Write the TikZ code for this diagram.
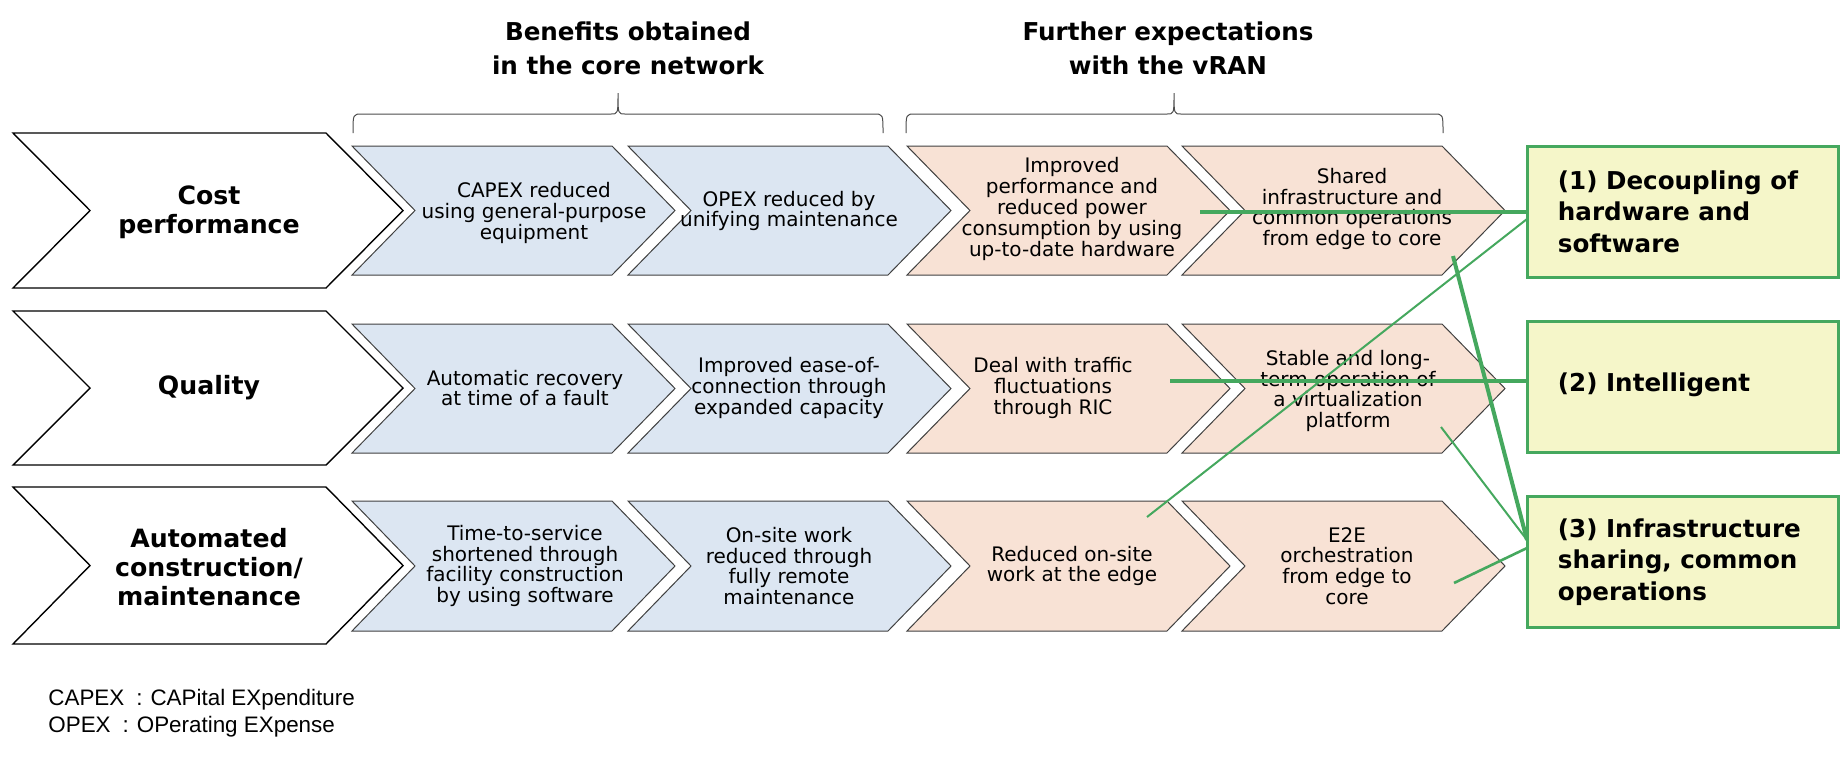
\documentclass[tikz,border=0pt]{standalone}
\usepackage{fontspec}
\setmainfont{DejaVu Sans}
\newfontfamily\notefont{Liberation Sans}
\usetikzlibrary{calc}
\definecolor{bluefill}{HTML}{DCE6F2}
\definecolor{orangefill}{HTML}{F8E2D5}
\definecolor{boxfill}{HTML}{F5F6C9}
\definecolor{ggreen}{HTML}{45A85E}
\newcommand\chevshape[6]{% style, left, top, bottom, width, depth
  \path[#1] (#2,#3) -- ++({#5-#6},0) -- ++(#6,{(#4-#3)/2}) -- ++(-#6,{(#4-#3)/2})
    -- (#2,#4) -- ++(#6,{-(#4-#3)/2}) -- cycle;}
\newcommand\bracepath[3]{% left, centre, right
  \draw[brace] (#1,133) .. controls (#1,114) .. ({#1+9},114) -- ({#2-7},114)
    .. controls (#2,114) .. (#2,93) .. controls (#2,114) .. ({#2+7},114)
    -- ({#3-9},114) .. controls (#3,114) .. (#3,133);}
\tikzset{
  chevwhite/.style={draw=black, line width=0.7pt, fill=white},
  chevblue/.style={draw=black!75, line width=0.5pt, fill=bluefill},
  chevorange/.style={draw=black!75, line width=0.5pt, fill=orangefill},
  ctext/.style={align=center, font=\fontsize{10}{10.4}\selectfont, inner sep=0pt},
  rowlabel/.style={align=center, font=\bfseries\fontsize{12.6}{14.7}\selectfont, inner sep=0pt},
  header/.style={align=center, font=\bfseries\fontsize{12.3}{17}\selectfont, inner sep=0pt},
  gbox/.style={draw=ggreen, line width=1.5pt, fill=boxfill, minimum width=155.5pt, minimum height=65.5pt, inner sep=0pt},
  gtext/.style={align=left, font=\bfseries\fontsize{12.3}{15.8}\selectfont, anchor=west, inner sep=0pt},
  link/.style={draw=ggreen, line width=2pt},
  thinlink/.style={draw=ggreen, line width=1pt},
  midlink/.style={draw=ggreen, line width=1.3pt},
  brace/.style={draw=black!70, line width=0.5pt},
  note/.style={font=\notefont\fontsize{11.2}{13.5}\selectfont, anchor=base west, inner sep=0pt}
}
\begin{document}
\begin{tikzpicture}[x=0.5pt,y=-0.5pt]
\useasboundingbox (0,0) rectangle (1841,761);

% headers and braces
\node[header] (h1) at (628,48) {Benefits obtained\\in the core network};
\node[header] (h2) at (1168,48) {Further expectations\\with the vRAN};
\bracepath{353}{618}{883}
\bracepath{906}{1174}{1443}

% white chevrons
\chevshape{chevwhite}{13}{133}{288}{390}{77}
\chevshape{chevwhite}{13}{311}{465}{390}{77}
\chevshape{chevwhite}{13}{487}{644}{390}{77}
\node[rowlabel] (r1) at (209,212) {Cost\\performance};
\node[rowlabel] (r2) at (209,388) {Quality};
\node[rowlabel] (r3) at (209,567) {Automated\\construction/\\maintenance};

% coloured chevrons
\foreach \t/\b in {146/275, 324/453, 501/631}{
  \chevshape{chevblue}{352}{\t}{\b}{323}{63}
  \chevshape{chevblue}{628}{\t}{\b}{323}{63}
  \chevshape{chevorange}{907}{\t}{\b}{323}{63}
  \chevshape{chevorange}{1182}{\t}{\b}{323}{63}
}
\node[ctext] (c11) at (534,213) {CAPEX reduced\\using general-purpose\\equipment};
\node[ctext] (c12) at (789,211) {OPEX reduced by\\unifying maintenance};
\node[ctext] (c13) at (1072,209) {Improved\\performance and\\reduced power\\consumption by using\\up-to-date hardware};
\node[ctext] (c14) at (1352,209) {Shared\\infrastructure and\\common operations\\from edge to core};
\node[ctext] (c21) at (525,388) {Automatic recovery\\at time of a fault};
\node[ctext] (c22) at (789,388) {Improved ease-of-\\connection through\\expanded capacity};
\node[ctext] (c23) at (1053,388) {Deal with traffic\\fluctuations\\through RIC};
\node[ctext] (c24) at (1348,391) {Stable and long-\\term operation of\\a virtualization\\platform};
\node[ctext] (c31) at (525,566) {Time-to-service\\shortened through\\facility construction\\by using software};
\node[ctext] (c32) at (789,566) {On-site work\\reduced through\\fully remote\\maintenance};
\node[ctext] (c33) at (1072,566) {Reduced on-site\\work at the edge};
\node[ctext] (c34) at (1347,566) {E2E\\orchestration\\from edge to\\core};

% green boxes
\node[gbox] (b1) at (1682.5,211.5) {};
\node[gbox] (b2) at (1682.5,386.5) {};
\node[gbox] (b3) at (1682.5,562) {};
\node[gtext] (t1) at ($(b1.west)+(32,0)$) {(1) Decoupling of\\hardware and\\software};
\node[gtext] (t2) at ($(b2.west)+(32,-2)$) {(2) Intelligent};
\node[gtext] (t3) at ($(b3.west)+(32,0)$) {(3) Infrastructure\\sharing, common\\operations};

% connector end points
\coordinate (s1) at (1200,212);
\coordinate (e1) at (1527,212);
\coordinate (s2) at (1147,517);
\coordinate (e2) at (1527,219);
\coordinate (s3) at (1170,381);
\coordinate (e3) at (1527,381);
\coordinate (s4) at (1453,256);
\coordinate (e4) at (1527,540);
\coordinate (s5) at (1441,427);
\coordinate (s6) at (1454,583);
\coordinate (e6) at (1527,548);

\draw[link] (s1) -- (e1);
\draw[thinlink] (s2) -- (e2);
\draw[link] (s3) -- (e3);
\draw[link] (s4) -- (e4);
\draw[thinlink] (s5) -- (e4);
\draw[midlink] (s6) -- (e6);

% footnote
\node[note] (n1) at (48,705) {CAPEX\hspace{6pt}:\hspace{4pt}CAPital EXpenditure};
\node[note] (n2) at (48,732) {OPEX\hspace{6pt}:\hspace{4pt}OPerating EXpense};
\end{tikzpicture}
\end{document}
